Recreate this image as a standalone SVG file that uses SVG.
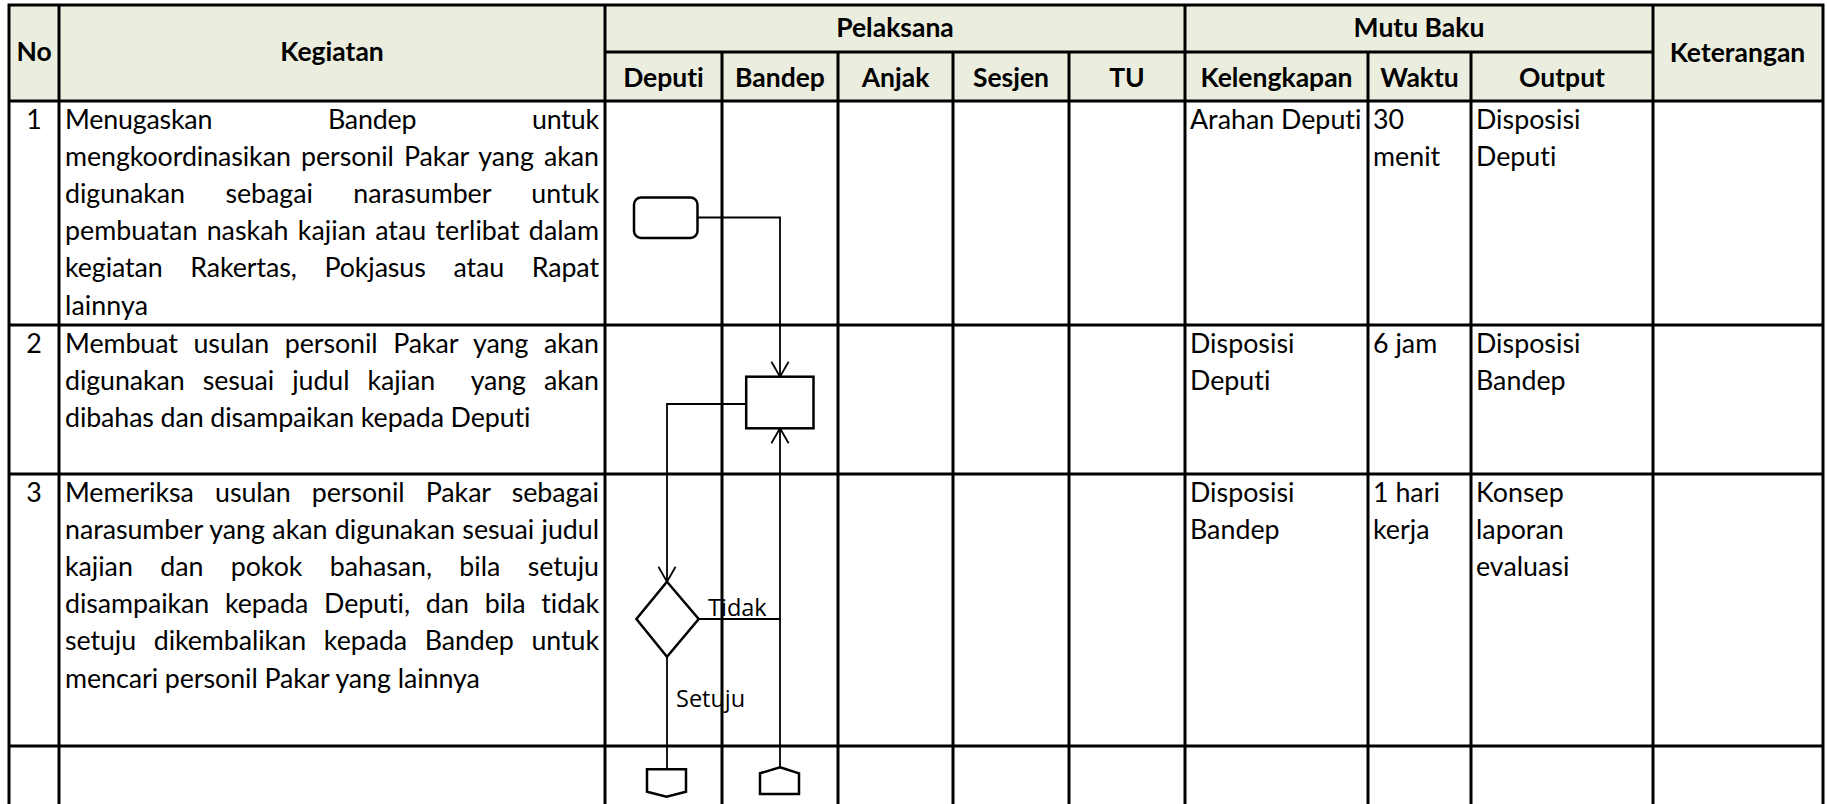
<svg xmlns="http://www.w3.org/2000/svg" width="1827" height="804" viewBox="0 0 1827 804">
<style>
text{font-variant-ligatures:none;font-feature-settings:"liga" 0,"clig" 0,"dlig" 0}
.grid{stroke:#000;stroke-width:3;stroke-linecap:square;fill:none}
.hd{font-family:Lato,"Liberation Sans",sans-serif;font-weight:700;font-size:26.5px;fill:#000;text-anchor:middle}
.tx{font-family:Lato,"Liberation Sans",sans-serif;font-size:26.8px;fill:#000}
.num{font-family:Lato,"Liberation Sans",sans-serif;font-size:26.8px;fill:#000;text-anchor:middle}
.lbl{font-family:"Open Sans","Noto Sans",sans-serif;font-size:23.5px;fill:#000}
.shape{fill:#fff;stroke:#000;stroke-width:2.5}
.conn{fill:none;stroke:#000;stroke-width:1.8}
</style>
<defs>
<marker id="arr" markerUnits="userSpaceOnUse" markerWidth="20" markerHeight="20" viewBox="-17 -10 19 20" refX="0" refY="0" orient="auto" overflow="visible">
<path d="M-15,-8.6 L0,0 L-15,8.6" fill="none" stroke="#000" stroke-width="1.8"/>
</marker>
</defs>
<rect x="0" y="0" width="1827" height="804" fill="#fff"/>
<g id="table">
<rect x="9" y="5" width="1814" height="96" fill="#EBEEDE"/>
<path class="grid" d="M9,5H1823M605,52H1653M9,101H1823M9,325H1823M9,474H1823M9,746H1823
M9,5V806M59,5V806M605,5V806M1185,5V806M1653,5V806M1823,5V806
M722,52V806M838,52V806M953,52V806M1069,52V806M1368,52V806M1471,52V806"/>
<text class="hd" x="34" y="61">No</text>
<text class="hd" x="332" y="61">Kegiatan</text>
<text class="hd" x="895" y="37">Pelaksana</text>
<text class="hd" x="1419" y="37">Mutu Baku</text>
<text class="hd" x="1737.5" y="62">Keterangan</text>
<text class="hd" x="663.5" y="87">Deputi</text>
<text class="hd" x="780" y="87">Bandep</text>
<text class="hd" x="895.5" y="87">Anjak</text>
<text class="hd" x="1011" y="87">Sesjen</text>
<text class="hd" x="1127" y="87">TU</text>
<text class="hd" x="1276.5" y="87">Kelengkapan</text>
<text class="hd" x="1419.5" y="87">Waktu</text>
<text class="hd" x="1562" y="87">Output</text>
</g>
<g id="row1">
<text class="num" x="34" y="129">1</text>
<text class="tx" x="65" y="129" textLength="534" word-spacing="109">Menugaskan Bandep untuk</text>
<text class="tx" x="65" y="166.1" textLength="534" word-spacing="3.5">mengkoordinasikan personil Pakar yang akan</text>
<text class="tx" x="65" y="203.2" textLength="534" word-spacing="33.7">digunakan sebagai narasumber untuk</text>
<text class="tx" x="65" y="240.3" textLength="534" word-spacing="2.3">pembuatan naskah kajian atau terlibat dalam</text>
<text class="tx" x="65" y="277.4" textLength="534" word-spacing="20.9">kegiatan Rakertas, Pokjasus atau Rapat</text>
<text class="tx" x="65" y="314.5" textLength="83">lainnya</text>
<text class="tx" x="1190" y="129">Arahan Deputi</text>
<text class="tx" x="1373" y="129">30</text>
<text class="tx" x="1373" y="166">menit</text>
<text class="tx" x="1476" y="129">Disposisi</text>
<text class="tx" x="1476" y="166">Deputi</text>
</g>
<g id="row2">
<text class="num" x="34" y="353">2</text>
<text class="tx" x="65" y="353" textLength="534" word-spacing="8.9">Membuat usulan personil Pakar yang akan</text>
<text class="tx" x="65" y="390.1" textLength="534" word-spacing="11.4" xml:space="preserve">digunakan sesuai judul kajian  yang akan</text>
<text class="tx" x="65" y="427.2" textLength="465.4">dibahas dan disampaikan kepada Deputi</text>
<text class="tx" x="1190" y="353">Disposisi</text>
<text class="tx" x="1190" y="390">Deputi</text>
<text class="tx" x="1373" y="353">6 jam</text>
<text class="tx" x="1476" y="353">Disposisi</text>
<text class="tx" x="1476" y="390">Bandep</text>
</g>
<g id="row3">
<text class="num" x="34" y="502">3</text>
<text class="tx" x="65" y="502" textLength="534" word-spacing="14.5">Memeriksa usulan personil Pakar sebagai</text>
<text class="tx" x="65" y="539.1" textLength="534" word-spacing="0.7">narasumber yang akan digunakan sesuai judul</text>
<text class="tx" x="65" y="576.2" textLength="534" word-spacing="20.6">kajian dan pokok bahasan, bila setuju</text>
<text class="tx" x="65" y="613.3" textLength="534" word-spacing="9.1">disampaikan kepada Deputi, dan bila tidak</text>
<text class="tx" x="65" y="650.4" textLength="534" word-spacing="10.9">setuju dikembalikan kepada Bandep untuk</text>
<text class="tx" x="65" y="687.5" textLength="414.8">mencari personil Pakar yang lainnya</text>
<text class="tx" x="1190" y="502">Disposisi</text>
<text class="tx" x="1190" y="539">Bandep</text>
<text class="tx" x="1373" y="502">1 hari</text>
<text class="tx" x="1373" y="539">kerja</text>
<text class="tx" x="1476" y="502">Konsep</text>
<text class="tx" x="1476" y="539">laporan</text>
<text class="tx" x="1476" y="576">evaluasi</text>
</g>
<g id="connectors">
<path class="conn" d="M697.5,217.5H780V376.7" marker-end="url(#arr)"/>
<path class="conn" d="M746.2,404H667V581.7" marker-end="url(#arr)"/>
<path class="conn" d="M780,767.3V428.3" marker-end="url(#arr)"/>
<path class="conn" d="M698.7,619H780"/>
<path class="conn" d="M667,656.7V769.3"/>
<text class="lbl" x="708" y="616">Tidak</text>
<text class="lbl" x="676" y="707">Setuju</text>
</g>
<g id="start">
<rect class="shape" x="634" y="197.5" width="63.5" height="40.5" rx="7"/>
</g>
<g id="process">
<rect class="shape" x="746.2" y="376.7" width="67.3" height="51.6"/>
</g>
<g id="decision">
<polygon class="shape" points="667,581.7 698.7,619 667,656.7 636.4,619"/>
</g>
<g id="offpage-deputi">
<polygon class="shape" points="647,769.3 686,769.3 686,791.7 666.5,796.7 647,791.7"/>
</g>
<g id="offpage-bandep">
<polygon class="shape" points="780,767.3 799,773.3 799,794 760,794 760,773.3"/>
</g>
</svg>
